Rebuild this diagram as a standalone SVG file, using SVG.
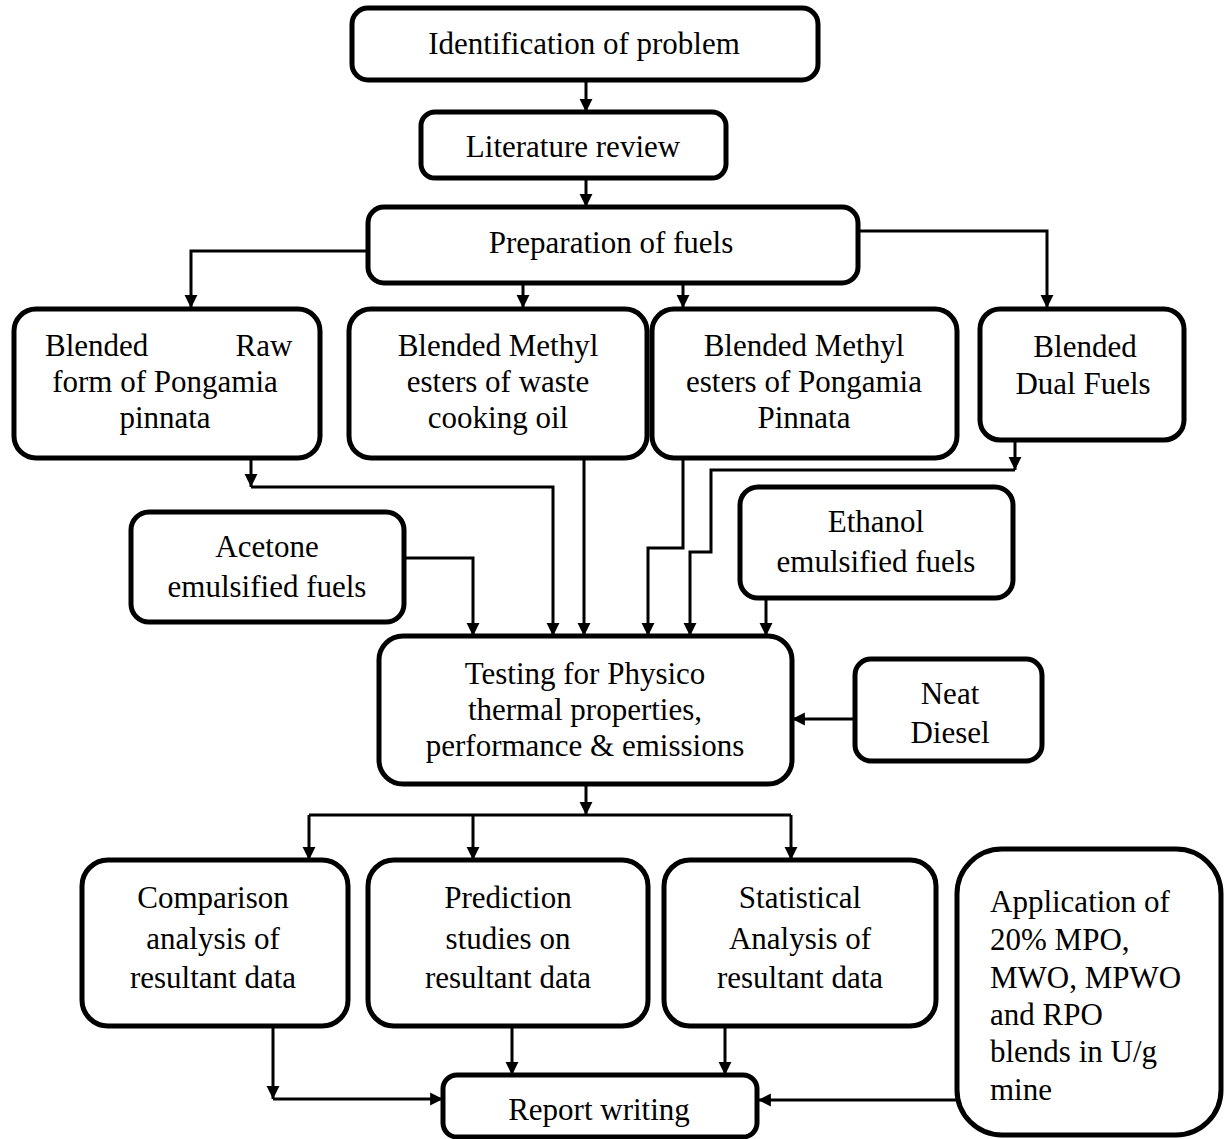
<svg xmlns="http://www.w3.org/2000/svg" width="1225" height="1139" viewBox="0 0 1225 1139">
<style>
.box{fill:#fff;stroke:#000;stroke-width:5}
.t{font-family:"Liberation Serif","Times New Roman",serif;font-size:31px;fill:#000;text-anchor:middle}
.l{text-anchor:start}
.c{fill:none;stroke:#000;stroke-width:3}
</style>
<defs>
<marker id="ah" viewBox="0 0 10 10" refX="10" refY="5" markerWidth="4.3" markerHeight="4.8" orient="auto" markerUnits="strokeWidth">
<path d="M0,0 L10,5 L0,10 z" fill="#000"/>
</marker>
</defs>
<rect width="1225" height="1139" fill="#fff"/>
<g id="connectors">
<path class="c" d="M586,80 V112" marker-end="url(#ah)"/>
<path class="c" d="M586,178 V207" marker-end="url(#ah)"/>
<path class="c" d="M368,251 H191 V308" marker-end="url(#ah)"/>
<path class="c" d="M523,283 V308" marker-end="url(#ah)"/>
<path class="c" d="M683,283 V308" marker-end="url(#ah)"/>
<path class="c" d="M858,231 H1047 V308" marker-end="url(#ah)"/>
<path class="c" d="M251,458 V487" marker-end="url(#ah)"/>
<path class="c" d="M251,487 H553 V636" marker-end="url(#ah)"/>
<path class="c" d="M584,458 V636" marker-end="url(#ah)"/>
<path class="c" d="M683,458 V548 H648 V636" marker-end="url(#ah)"/>
<path class="c" d="M1015,440 V470" marker-end="url(#ah)"/>
<path class="c" d="M1015,470 H711 V552 H690 V636" marker-end="url(#ah)"/>
<path class="c" d="M404,558 H473 V636" marker-end="url(#ah)"/>
<path class="c" d="M766,598 V636" marker-end="url(#ah)"/>
<path class="c" d="M855,719 H792" marker-end="url(#ah)"/>
<path class="c" d="M586,784 V815" marker-end="url(#ah)"/>
<path class="c" d="M309,815 H791"/>
<path class="c" d="M309,815 V860" marker-end="url(#ah)"/>
<path class="c" d="M473,815 V860" marker-end="url(#ah)"/>
<path class="c" d="M791,815 V860" marker-end="url(#ah)"/>
<path class="c" d="M273,1026 V1099" marker-end="url(#ah)"/>
<path class="c" d="M273,1099 H443" marker-end="url(#ah)"/>
<path class="c" d="M512,1026 V1075" marker-end="url(#ah)"/>
<path class="c" d="M725,1026 V1075" marker-end="url(#ah)"/>
<path class="c" d="M956,1100 H758" marker-end="url(#ah)"/>
</g>
<g id="identification">
<rect class="box" x="352" y="8" width="466" height="72" rx="16"/>
<text class="t" x="584" y="54">Identification of problem</text>
</g>
<g id="literature">
<rect class="box" x="421" y="112" width="305" height="66" rx="14"/>
<text class="t" x="573" y="157">Literature review</text>
</g>
<g id="preparation">
<rect class="box" x="368" y="207" width="490" height="76" rx="16"/>
<text class="t" x="611" y="253">Preparation of fuels</text>
</g>
<g id="raw">
<rect class="box" x="14" y="309" width="306" height="149" rx="22"/>
<text class="t"><tspan class="l" x="45" y="356">Blended</tspan><tspan x="264" y="356">Raw</tspan><tspan x="165" y="392">form of Pongamia</tspan><tspan x="165" y="428">pinnata</tspan></text>
</g>
<g id="wco">
<rect class="box" x="349" y="309" width="298" height="149" rx="22"/>
<text class="t"><tspan x="498" y="356">Blended Methyl</tspan><tspan x="498" y="392">esters of waste</tspan><tspan x="498" y="428">cooking oil</tspan></text>
</g>
<g id="pongamia">
<rect class="box" x="652" y="309" width="305" height="149" rx="22"/>
<text class="t"><tspan x="804" y="356">Blended Methyl</tspan><tspan x="804" y="392">esters of Pongamia</tspan><tspan x="804" y="428">Pinnata</tspan></text>
</g>
<g id="dual">
<rect class="box" x="980" y="309" width="204" height="131" rx="20"/>
<text class="t"><tspan x="1085" y="357">Blended</tspan><tspan x="1083" y="394">Dual Fuels</tspan></text>
</g>
<g id="acetone">
<rect class="box" x="131" y="512" width="273" height="110" rx="18"/>
<text class="t"><tspan x="267" y="557">Acetone</tspan><tspan x="267" y="597">emulsified fuels</tspan></text>
</g>
<g id="ethanol">
<rect class="box" x="740" y="487" width="273" height="111" rx="18"/>
<text class="t"><tspan x="876" y="532">Ethanol</tspan><tspan x="876" y="572">emulsified fuels</tspan></text>
</g>
<g id="testing">
<rect class="box" x="379" y="636" width="413" height="148" rx="24"/>
<text class="t"><tspan x="585" y="684">Testing for Physico</tspan><tspan x="585" y="720">thermal properties,</tspan><tspan x="585" y="756">performance &amp; emissions</tspan></text>
</g>
<g id="diesel">
<rect class="box" x="855" y="659" width="187" height="102" rx="16"/>
<text class="t"><tspan x="950" y="704">Neat</tspan><tspan x="950" y="743">Diesel</tspan></text>
</g>
<g id="comparison">
<rect class="box" x="82" y="860" width="266" height="166" rx="26"/>
<text class="t"><tspan x="213" y="908">Comparison</tspan><tspan x="213" y="949">analysis of</tspan><tspan x="213" y="988">resultant data</tspan></text>
</g>
<g id="prediction">
<rect class="box" x="368" y="860" width="280" height="166" rx="26"/>
<text class="t"><tspan x="508" y="908">Prediction</tspan><tspan x="508" y="949">studies on</tspan><tspan x="508" y="988">resultant data</tspan></text>
</g>
<g id="statistical">
<rect class="box" x="664" y="860" width="272" height="166" rx="26"/>
<text class="t"><tspan x="800" y="908">Statistical</tspan><tspan x="800" y="949">Analysis of</tspan><tspan x="800" y="988">resultant data</tspan></text>
</g>
<g id="application">
<rect class="box" x="957" y="849" width="264" height="286" rx="45"/>
<text class="t l"><tspan x="990" y="912">Application of</tspan><tspan x="990" y="950">20% MPO,</tspan><tspan x="990" y="988">MWO, MPWO</tspan><tspan x="990" y="1025">and RPO</tspan><tspan x="990" y="1062">blends in U/g</tspan><tspan x="990" y="1100">mine</tspan></text>
</g>
<g id="report">
<rect class="box" x="443" y="1075" width="314" height="62" rx="14"/>
<text class="t" x="599" y="1120">Report writing</text>
</g>
</svg>
